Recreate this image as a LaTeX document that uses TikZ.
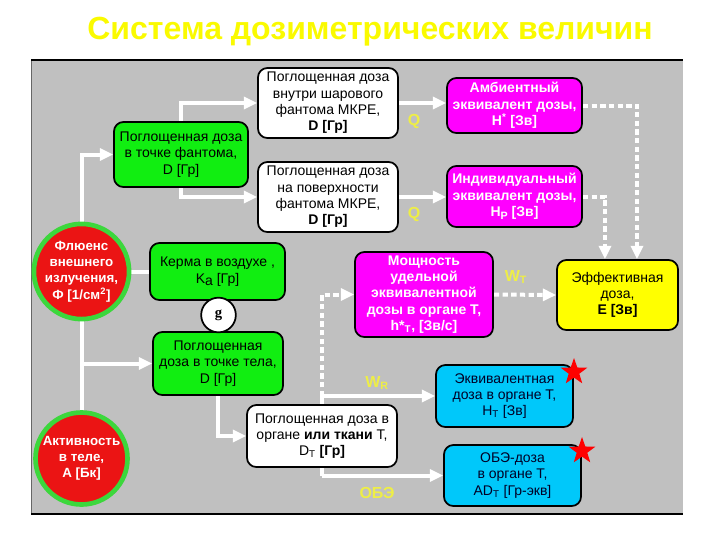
\documentclass[tikz,border=0pt]{standalone}
\usepackage{fontspec}
\setmainfont{Liberation Sans}
\newfontfamily\serifbf{Liberation Serif}
\usetikzlibrary{arrows.meta,shapes.geometric,calc,backgrounds}
\pgfdeclarelayer{panellayer}
\pgfsetlayers{panellayer,background,main}
\definecolor{panel}{RGB}{192,192,192}
\definecolor{grn}{RGB}{17,238,17}
\definecolor{mag}{RGB}{255,0,255}
\definecolor{redc}{RGB}{235,20,20}
\definecolor{ring}{RGB}{60,215,60}
\definecolor{cyanb}{RGB}{0,200,250}
\definecolor{yelb}{RGB}{255,255,0}
\definecolor{ttl}{RGB}{250,250,0}
\definecolor{lab}{RGB}{238,238,70}
\begin{document}
\begin{tikzpicture}[x=0.75pt,y=-0.75pt,
  box/.style={rectangle, rounded corners=7pt, draw=black, line width=1.3pt, align=center,
    font=\fontsize{10.5}{12.2}\selectfont, inner sep=1pt},
  greenbox/.style={box, fill=grn},
  whitebox/.style={box, fill=white},
  magbox/.style={box, fill=mag, text=white, font=\fontsize{10.5}{12.2}\selectfont\bfseries},
  cyanbox/.style={box, fill=cyanb, text=black!85!blue},
  yelbox/.style={box, fill=yelb},
  redcirc/.style={circle, fill=redc, draw=ring, line width=3.5pt, text=white, align=center,
    inner sep=0pt, font=\fontsize{10}{12.2}\selectfont\bfseries},
  conn/.style={white, line width=3pt, -{Triangle[length=10pt,width=9pt]}},
  plainconn/.style={white, line width=3pt},
  dotconn/.style={white, line width=3pt, dash pattern=on 4pt off 2.5pt, -{Triangle[length=10pt,width=9pt]}},
  lbl/.style={text=lab, font=\fontsize{12}{13}\selectfont\bfseries, inner sep=0pt},
  redstar/.style={star, star points=5, star point ratio=2.5, fill=red, minimum size=21pt, inner sep=0pt}
]
\useasboundingbox (0,0) rectangle (720,540);
% panel
\begin{pgfonlayer}{panellayer}
\fill[panel] (31,60) rectangle (683,514);
\draw[black!60, line width=0.4pt] (31,60) -- (31,514);
\draw[black, line width=1pt] (31,60) -- (683,60);
\draw[black, line width=1pt] (31,514) -- (683,514);
\end{pgfonlayer}
% title
\node[text=ttl, font=\fontsize{24}{28}\selectfont\bfseries] (title) at (370,32) {Система дозиметрических величин};

% nodes
\node[greenbox, minimum width=100.5pt, minimum height=48.75pt] (b1) at (181,154.5)
  {Поглощенная доза\\в точке фантома,\\D [Гр]};
\node[whitebox, minimum width=105pt, minimum height=52.5pt] (b2) at (328,103)
  {Поглощенная доза\\внутри шарового\\фантома МКРЕ,\\\textbf{D [Гр]}};
\node[whitebox, minimum width=105pt, minimum height=52.5pt] (b3) at (328,197)
  {Поглощенная доза\\на поверхности\\фантома МКРЕ,\\\textbf{D [Гр]}};
\node[magbox, minimum width=101.25pt, minimum height=41.25pt] (amb) at (514.5,105.5)
  {Амбиентный\\эквивалент дозы,\\H\textsuperscript{*} [Зв]};
\node[magbox, minimum width=101.25pt, minimum height=45.75pt] (ind) at (514.5,196.5)
  {Индивидуальный\\эквивалент дозы,\\H\raisebox{-2pt}{\fontsize{8}{8}\selectfont P} [Зв]};
\node[redcirc, minimum size=69pt] (flux) at (81.5,271.5)
  {Флюенс\\внешнего\\излучения,\\Ф [1/см\textsuperscript{2}]};
\node[greenbox, minimum width=101.25pt, minimum height=42.75pt] (kerma) at (217.5,271.5)
  {Керма в воздухе ,\\K\raisebox{-2pt}{a} [Гр]};
\node[greenbox, minimum width=97.5pt, minimum height=47.25pt] (b9) at (218,363.5)
  {Поглощенная\\доза в точке тела,\\D [Гр]};
\node[circle, draw=black, line width=1.3pt, fill=white, minimum size=26pt, inner sep=0pt,
  font=\serifbf\fontsize{11}{11}\selectfont\bfseries] (g) at (218.5,315) {g};
\node[redcirc, minimum size=69pt] (act) at (81.5,458.5)
  {Активность\\в теле,\\А [Бк]};
\node[whitebox, minimum width=112.5pt, minimum height=46.5pt] (b11) at (322,436)
  {Поглощенная доза в\\органе \textbf{или ткани} Т,\\D\textsubscript{T} \textbf{[Гр]}};
\node[magbox, minimum width=103.5pt, minimum height=63.75pt] (pow) at (424,294.5)
  {Мощность\\удельной\\эквивалентной\\дозы в органе Т,\\h*\textsubscript{T}, [Зв/с]};
\node[yelbox, minimum width=90.75pt, minimum height=52.5pt] (eff) at (617.5,295)
  {Эффективная\\доза,\\\textbf{E [Зв]}};
\node[cyanbox, minimum width=102.75pt, minimum height=46.5pt] (eqv) at (504.5,396)
  {Эквивалентная\\доза в органе Т,\\H\textsubscript{T} [Зв]};
\node[cyanbox, minimum width=102.75pt, minimum height=45.75pt] (rbe) at (512.5,475.5)
  {ОБЭ-доза\\в органе Т,\\AD\textsubscript{T} [Гр-экв]};
\node[redstar] (s1) at (574,372) {};
\node[redstar] (s2) at (582,451) {};

% labels
\node[lbl] (q1) at (414,121) {Q};
\node[lbl] (q2) at (414,214) {Q};
\node[lbl] (wt) at (516,277) {W\textsubscript{T}};
\node[lbl] (wr) at (377,383) {W\textsubscript{R}};
\node[lbl] (obe) at (377,493) {ОБЭ};

\coordinate (j1) at (b11.north |- eqv.west);
\coordinate (j2) at (b11.north |- rbe.west);

\begin{scope}[on background layer]
\draw[conn] (flux.north) |- (b1.west);
\draw[conn] (b1.north) |- (b2.west);
\draw[conn] (b1.south) |- (b3.west);
\draw[conn] (b2.east) -- (b2.east -| amb.west);
\draw[conn] (b3.east) -- (b3.east -| ind.west);
\draw[dotconn] (amb.east) -| ([xshift=14.6pt]eff.north);
\draw[dotconn] (ind.east) -| ([xshift=-9.4pt]eff.north);
\draw[plainconn] (flux.east) -- (kerma.west);
\draw[plainconn] (flux.south) -- (act.north);
\draw[conn] (flux.south |- b9.west) -- (b9.west);
\draw[conn] (b9.south) |- (b11.west);
\draw[plainconn] (j1) -- (j2);
\draw[conn] (j1) -- (eqv.west);
\draw[conn] (j2) -- (rbe.west);
\draw[dotconn] (j1) |- (pow.west);
\draw[dotconn] (pow.east) -- (eff.west);
\end{scope}
\end{tikzpicture}
\end{document}
